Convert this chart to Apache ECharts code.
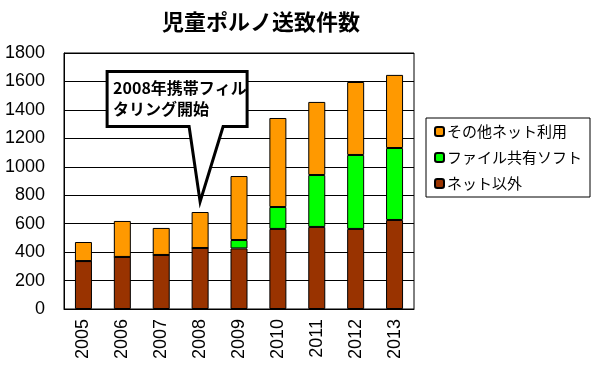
<!DOCTYPE html>
<html><head><meta charset="utf-8">
<script src="https://cdn.jsdelivr.net/npm/echarts@6/dist/echarts.min.js"></script>
<style>html,body{margin:0;padding:0;background:#fff}#c{width:600px;height:370px}</style>
</head><body><div id="c"></div>
<script>
var categories = ['2005','2006','2007','2008','2009','2010','2011','2012','2013'];
var netIgai = [337,366,380,429,426,563,577,563,626];
var fileShare = [0,0,0,0,59,154,365,520,506];
var sonota = [134,253,190,253,450,626,514,513,514];
var yTicks = [0,200,400,600,800,1000,1200,1400,1600,1800];
var titleText = '児童ポルノ送致件数';
var calloutText = '2008年携帯フィル\nタリング開始';
var calloutYear = '2008';
var calloutValue = 755;

var chart = echarts.init(document.getElementById('c'), null, {renderer:'canvas'});
var jp = '"Noto Sans CJK JP", sans-serif';
var num = '"Liberation Sans", Arial, sans-serif';
function bar(name, data, color){
  return {name:name, type:'bar', stack:'a', data:data, barWidth:17,
    itemStyle:{color:color, borderColor:'#000', borderWidth:1}, animation:false};
}
chart.setOption({
  animation:false,
  title:{text:titleText, left:157, top:6, textStyle:{fontFamily:jp, fontSize:22, fontWeight:'bold', color:'#000'}},
  grid:{left:64, right:186, top:53, bottom:61, show:true, borderColor:'#000', borderWidth:1, backgroundColor:'transparent'},
  legend:{orient:'vertical', left:426, top:118, width:171, height:82, padding:[6,8,6,8], itemGap:11,
    borderColor:'#000', borderWidth:1, itemWidth:9, itemHeight:9,
    textStyle:{fontFamily:jp, fontSize:15, color:'#000', padding:[0,0,0,-2]},
    data:['その他ネット利用','ファイル共有ソフト','ネット以外']},
  xAxis:{type:'category', data:categories,
    axisLine:{lineStyle:{color:'#000'}},
    axisTick:{inside:true, length:5, lineStyle:{color:'#000'}},
    axisLabel:{rotate:90, margin:10, fontFamily:num, fontSize:18, color:'#000'}},
  yAxis:{type:'value', min:yTicks[0], max:yTicks[yTicks.length-1], interval:200,
    axisLine:{show:true, lineStyle:{color:'#000'}}, axisTick:{show:false},
    splitLine:{lineStyle:{color:'#000', width:1}},
    axisLabel:{margin:19, fontFamily:num, fontSize:18, color:'#000', formatter:function(v){return String(v);}}},
  series:[bar('ネット以外', netIgai, '#993300'), bar('ファイル共有ソフト', fileShare, '#00ff00'), bar('その他ネット利用', sonota, '#ff9900')]
});
var tip = chart.convertToPixel({xAxisIndex:0, yAxisIndex:0}, [calloutYear, calloutValue]);
var tx = tip[0], ty = tip[1];
var L = tx-93, R = tx+47, T = ty-130, B = ty-75;
chart.setOption({graphic:[
  {type:'polygon', shape:{points:[[L,T],[R,T],[R,B],[tx+23,B],[tx,ty],[tx-11,B],[L,B]]},
   style:{fill:'#fff', stroke:'#000', lineWidth:3}, z:100},
  {type:'text', left:L+6, top:T+6, z:101,
   style:{text:calloutText, font:'bold 16px "Noto Sans CJK JP"', fill:'#000', lineHeight:21}}
]});
</script></body></html>
